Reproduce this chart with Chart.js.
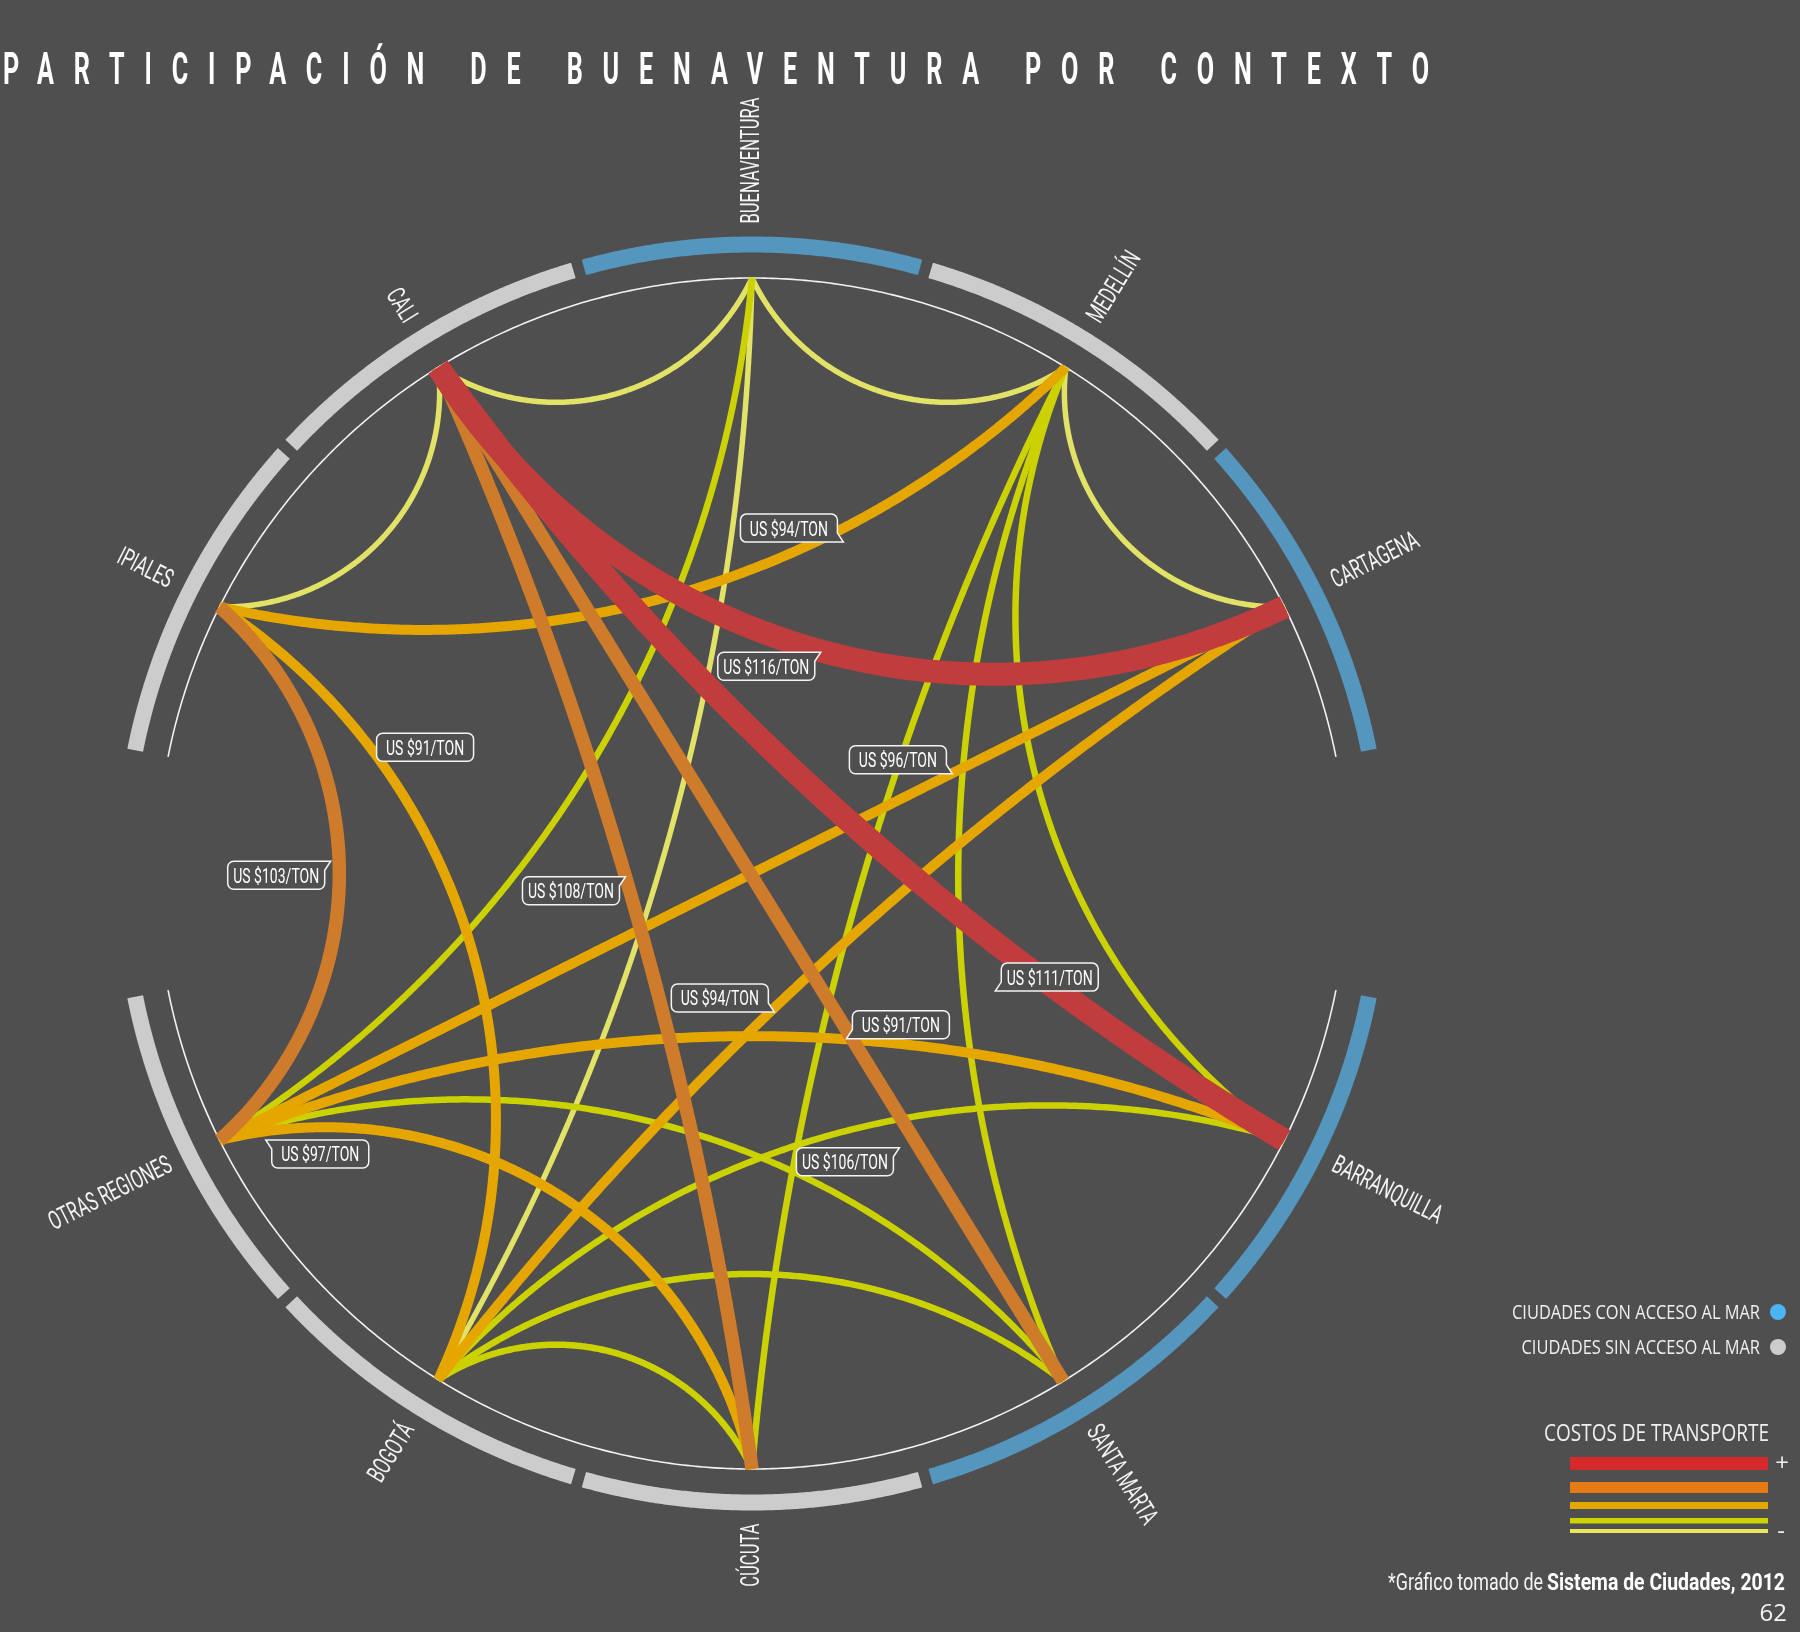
<!DOCTYPE html>
<html><head><meta charset="utf-8">
<script src="https://cdn.jsdelivr.net/npm/chart.js@4.4.1/dist/chart.umd.min.js"></script>
<style>html,body{margin:0;padding:0;background:#4f4f4f;overflow:hidden}canvas{display:block}</style>
</head><body>
<canvas id="c" width="1800" height="1632"></canvas>
<script>
// ---------------- DATA ----------------
const chartTitle = 'PARTICIPACIÓN DE BUENAVENTURA POR CONTEXTO';
const cities = ['BUENAVENTURA','MEDELLÍN','CARTAGENA','BARRANQUILLA','SANTA MARTA','CÚCUTA','BOGOTÁ','OTRAS REGIONES','IPIALES','CALI'];
const cityAngles = [0, 31.8, 63.4, 116.6, 148.5, 180, 211.8, 243.4, 296.6, 328.2];
const seaAccess = [true, false, true, true, true, false, false, false, false, false];
const segmentStart = [-15.5, 16.5, 48.1, 101.3, 132.9, 164.5, 196.5, 228.1, 281.3, 312.9];
const segmentEnd   = [15.5, 47.1, 78.7, 131.9, 163.5, 195.5, 227.1, 258.7, 311.9, 343.5];
const edgeFrom  = [0,0,0,0,9,9,9,9,9,1,1,1,1,1,8,8,7,7,7,7,6,6,6,6];
const edgeTo    = [9,1,7,6,8,2,3,5,4,8,2,5,4,3,7,6,2,3,4,5,2,3,4,5];
const edgeLevel = [1,1,2,1,1,5,5,4,4,3,1,2,2,2,4,3,3,3,2,3,3,2,2,2];
const edgeCost  = [null,null,null,null,null,116,111,108,106,94,null,null,null,null,103,91,96,91,null,97,94,null,null,null];
const legendSea = ['CIUDADES CON ACCESO AL MAR','CIUDADES SIN ACCESO AL MAR'];
const legendCostTitle = 'COSTOS DE TRANSPORTE';
const legendCostLevels = [5,4,3,2,1];
const sourceNormal = '*Gráfico tomado de ';
const sourceBold = 'Sistema de Ciudades, 2012';
const pageNumber = '62';

// ---------------- STYLE / LAYOUT ----------------
const BG = '#4f4f4f';
const levelColor = {1:'#e2e266', 2:'#ccd100', 3:'#e6a600', 4:'#cf7b2c', 5:'#c03c3d'};
const levelWidth = {1:5.5, 2:6.5, 3:10, 4:13.5, 5:23};
const legendColor = {5:'#d42a2a', 4:'#e57b12', 3:'#e4a800', 2:'#cdd300', 1:'#e8e85a'};
const legendBar = {5:[1457,1470], 4:[1482,1493], 3:[1502,1509], 2:[1518,1523.5], 1:[1529,1533]};
// curvature of each chord (ratio of mid-point distance to chord mid distance); null = default
const edgeBend = [null,null,0.62,0.55,null,0.58,0.64,0.75,null,0.72,null,0.66,0.66,0.68,0.775,0.66,null,0.61,0.66,0.74,0.7,0.68,0.79,null];
// label annotation placement (data units, circle radius = 1)
const labelLayout = [
  {e:9,  x:0.062,  y:0.580,  tail:'br'},
  {e:5,  x:0.024,  y:0.348,  tail:'tr'},
  {e:15, x:-0.549, y:0.212,  tail:'none'},
  {e:16, x:0.245,  y:0.191,  tail:'br'},
  {e:14, x:-0.799, y:-0.003, tail:'tr'},
  {e:7,  x:-0.304, y:-0.029, tail:'tr'},
  {e:6,  x:0.500,  y:-0.174, tail:'bl'},
  {e:20, x:-0.054, y:-0.209, tail:'br'},
  {e:17, x:0.250,  y:-0.254, tail:'bl'},
  {e:19, x:-0.725, y:-0.471, tail:'tl'},
  {e:8,  x:0.156,  y:-0.484, tail:'tr'}
];
const W = 1800, H = 1632, CX = 752, CY = 873.5, RPX = 595.5;
const xMin = -CX / RPX, xMax = (W - CX) / RPX, yMax = CY / RPX, yMin = -(H - CY) / RPX;
const RING_R = 629 / RPX, LABEL_R = 650 / RPX;
const D2R = Math.PI / 180;

function arcPts(a0, a1, r, n) {
  const pts = [];
  for (let k = 0; k <= n; k++) {
    const a = (a0 + (a1 - a0) * k / n) * D2R;
    pts.push({x: r * Math.sin(a), y: r * Math.cos(a)});
  }
  return pts;
}
function defaultBend(d) {
  const tbl = [[0,0.95],[32,0.87],[64,0.77],[96,0.66],[128,0.62],[180,0.65]];
  for (let i = 1; i < tbl.length; i++) {
    if (d <= tbl[i][0]) {
      const t = (d - tbl[i-1][0]) / (tbl[i][0] - tbl[i-1][0]);
      return tbl[i-1][1] + t * (tbl[i][1] - tbl[i-1][1]);
    }
  }
  return 0.65;
}
function edgePts(idx) {
  const i = edgeFrom[idx], j = edgeTo[idx];
  const a = cityAngles[i] * D2R, b = cityAngles[j] * D2R;
  const P0 = {x: Math.sin(a), y: Math.cos(a)}, P2 = {x: Math.sin(b), y: Math.cos(b)};
  const Mx = (P0.x + P2.x) / 2, My = (P0.y + P2.y) / 2, m = Math.hypot(Mx, My);
  let delta = Math.abs(cityAngles[i] - cityAngles[j]); if (delta > 180) delta = 360 - delta;
  const r = edgeBend[idx] == null ? defaultBend(delta) : edgeBend[idx];
  const s = m * (1 - r);
  const N = 140, pts = [];
  if (s < 1e-3) {
    for (let k = 0; k <= N; k++) { const t = k / N; pts.push({x: P0.x + (P2.x - P0.x) * t, y: P0.y + (P2.y - P0.y) * t}); }
    return pts;
  }
  const ux = Mx / m, uy = My / m;
  const c = Math.hypot(P0.x - Mx, P0.y - My);
  const rho = (c * c + s * s) / (2 * s);
  const dq = m - s;
  const Ox = ux * (dq + rho), Oy = uy * (dq + rho);
  const f0 = Math.atan2(P0.y - Oy, P0.x - Ox);
  const fq = Math.atan2(-uy, -ux);
  let d1 = fq - f0;
  while (d1 > Math.PI) d1 -= 2 * Math.PI;
  while (d1 < -Math.PI) d1 += 2 * Math.PI;
  for (let k = 0; k <= N; k++) {
    const f = f0 + 2 * d1 * k / N;
    pts.push({x: Ox + rho * Math.cos(f), y: Oy + rho * Math.sin(f)});
  }
  return pts;
}

const datasets = [];
cities.forEach((c, i) => {
  datasets.push({label: 'ring ' + c, data: arcPts(segmentStart[i], segmentEnd[i], RING_R, 80),
    borderColor: seaAccess[i] ? '#5596be' : '#cccccc', borderWidth: 16, borderCapStyle: 'butt', order: 100});
});
datasets.push({label: 'circle top', data: arcPts(-78.7, 78.7, 1, 200), borderColor: '#f2f2f2', borderWidth: 1.6, order: 99});
datasets.push({label: 'circle bottom', data: arcPts(101.3, 258.7, 1, 200), borderColor: '#f2f2f2', borderWidth: 1.6, order: 99});
edgeFrom.forEach((f, idx) => {
  const lv = edgeLevel[idx];
  datasets.push({label: cities[f] + ' - ' + cities[edgeTo[idx]], data: edgePts(idx),
    borderColor: levelColor[lv], borderWidth: levelWidth[lv], borderCapStyle: 'butt',
    order: 20 - lv * 2 - idx / 100});
});
// tiny tension avoids Chart.js' x-sorted "fast path", which would collapse near-vertical runs
datasets.forEach(d => { d.showLine = true; d.pointRadius = 0; d.pointHoverRadius = 0; d.tension = 0.0001; d.fill = false; d.borderJoinStyle = 'round'; });

function condText(ctx, text, x, y, opt) {
  ctx.save();
  ctx.translate(x, y);
  if (opt.rot) ctx.rotate(opt.rot);
  ctx.scale(opt.sx || 1, 1);
  ctx.font = opt.font;
  ctx.fillStyle = opt.color || '#ffffff';
  ctx.textAlign = opt.align || 'left';
  ctx.textBaseline = opt.baseline || 'alphabetic';
  if (opt.ls) ctx.letterSpacing = opt.ls + 'px';
  ctx.fillText(text, 0, 0);
  ctx.restore();
}
function scaleFor(ctx, text, font, target) {
  ctx.save(); ctx.font = font; ctx.letterSpacing = '0px';
  const w = ctx.measureText(text).width; ctx.restore();
  return target / w;
}

const bgPlugin = {
  id: 'bg',
  beforeDraw(chart) {
    const ctx = chart.ctx; ctx.save(); ctx.fillStyle = BG; ctx.fillRect(0, 0, chart.width, chart.height); ctx.restore();
  }
};

const annotPlugin = {
  id: 'annot',
  afterDraw(chart) {
    const ctx = chart.ctx, xs = chart.scales.x, ys = chart.scales.y;
    // Title
    const tFont = 'bold 45px Roboto';
    const tsx = 0.56;
    ctx.save(); ctx.font = tFont; ctx.letterSpacing = '0px';
    const w0 = ctx.measureText(chartTitle).width; ctx.restore();
    const n = [...chartTitle].length;
    const ls = (1426 / tsx - w0) / (n - 1);
    condText(ctx, chartTitle, 3, 84, {font: tFont, sx: tsx, ls: ls});

    // City names
    const cFont = '26px Roboto';
    const csx = scaleFor(ctx, 'BUENAVENTURA', cFont, 126);
    cities.forEach((c, i) => {
      const th = cityAngles[i];
      const px = xs.getPixelForValue(LABEL_R * Math.sin(th * D2R));
      const py = ys.getPixelForValue(LABEL_R * Math.cos(th * D2R));
      if (th < 180) condText(ctx, c, px, py, {font: cFont, sx: csx, rot: (th - 90) * D2R, align: 'left', baseline: 'middle', color: '#f4f4f4'});
      else condText(ctx, c, px, py, {font: cFont, sx: csx, rot: (th - 270) * D2R, align: 'right', baseline: 'middle', color: '#f4f4f4'});
    });

    // Cost labels
    const lFont = '21px Roboto';
    const lsx = scaleFor(ctx, 'US $116/TON', lFont, 86);
    labelLayout.forEach(L => {
      const cx = xs.getPixelForValue(L.x), cy = ys.getPixelForValue(L.y);
      const bw = 97, bh = 28, rr = 6, sp = 6, sd = 9;
      const l = cx - bw / 2, r = cx + bw / 2, t = cy - bh / 2, b = cy + bh / 2;
      ctx.save();
      ctx.beginPath();
      if (L.tail === 'tl') { ctx.moveTo(l - sp, t); } else { ctx.moveTo(l + rr, t); }
      if (L.tail === 'tr') { ctx.lineTo(r + sp, t); ctx.lineTo(r, t + sd); } else { ctx.lineTo(r - rr, t); ctx.arcTo(r, t, r, t + rr, rr); }
      if (L.tail === 'br') { ctx.lineTo(r, b - sd); ctx.lineTo(r + sp, b); } else { ctx.lineTo(r, b - rr); ctx.arcTo(r, b, r - rr, b, rr); }
      if (L.tail === 'bl') { ctx.lineTo(l - sp, b); ctx.lineTo(l, b - sd); } else { ctx.lineTo(l + rr, b); ctx.arcTo(l, b, l, b - rr, rr); }
      if (L.tail === 'tl') { ctx.lineTo(l, t + sd); ctx.closePath(); } else { ctx.lineTo(l, t + rr); ctx.arcTo(l, t, l + rr, t, rr); ctx.closePath(); }
      ctx.fillStyle = BG; ctx.fill();
      ctx.strokeStyle = '#f4f4f4'; ctx.lineWidth = 1.5; ctx.stroke();
      ctx.restore();
      condText(ctx, 'US $' + edgeCost[L.e] + '/TON', cx, cy + 7.5, {font: lFont, sx: lsx, align: 'center'});
    });

    // Legend: sea access
    const gFont = '20px "Open Sans"';
    const gsx = scaleFor(ctx, legendSea[0], gFont, 248);
    condText(ctx, legendSea[0], 1760, 1319, {font: gFont, sx: gsx, align: 'right', color: '#f0f0f0'});
    condText(ctx, legendSea[1], 1760, 1354, {font: gFont, sx: gsx, align: 'right', color: '#f0f0f0'});
    ctx.save();
    ctx.fillStyle = '#4ab4f5'; ctx.beginPath(); ctx.arc(1778, 1312, 8, 0, Math.PI * 2); ctx.fill();
    ctx.fillStyle = '#cccccc'; ctx.beginPath(); ctx.arc(1778, 1347, 8, 0, Math.PI * 2); ctx.fill();
    ctx.restore();
    // Legend: costs
    const hFont = '24px "Open Sans"';
    const hsx = scaleFor(ctx, legendCostTitle, hFont, 225);
    condText(ctx, legendCostTitle, 1769, 1441, {font: hFont, sx: hsx, align: 'right', color: '#f0f0f0'});
    ctx.save();
    legendCostLevels.forEach(lv => {
      const [y0, y1] = legendBar[lv];
      ctx.fillStyle = legendColor[lv];
      ctx.fillRect(1570, y0, 198, y1 - y0);
    });
    ctx.restore();
    condText(ctx, '+', 1782, 1471, {font: '24px "Open Sans"', align: 'center', color: '#f0f0f0'});
    condText(ctx, '-', 1781, 1539, {font: '24px "Open Sans"', align: 'center', color: '#f0f0f0'});

    // Source
    const sbFont = 'bold 24px Roboto', snFont = '24px Roboto';
    const sbsx = scaleFor(ctx, sourceBold, sbFont, 238);
    const snsx = scaleFor(ctx, sourceNormal.trim(), snFont, 155);
    condText(ctx, sourceBold, 1785, 1590, {font: sbFont, sx: sbsx, align: 'right', color: '#ffffff'});
    condText(ctx, sourceNormal.trim(), 1543, 1590, {font: snFont, sx: snsx, align: 'right', color: '#f4f4f4'});
    condText(ctx, pageNumber, 1787, 1621, {font: '24px "Open Sans"', align: 'right', color: '#f4f4f4'});
  }
};

new Chart(document.getElementById('c'), {
  type: 'scatter',
  data: {datasets},
  options: {
    responsive: false, animation: false, events: [], devicePixelRatio: 1,
    parsing: false, normalized: true,
    layout: {padding: 0},
    scales: {
      x: {type: 'linear', min: xMin, max: xMax, bounds: 'data', display: false},
      y: {type: 'linear', min: yMin, max: yMax, bounds: 'data', display: false}
    },
    plugins: {legend: {display: false}, tooltip: {enabled: false}, title: {display: false}}
  },
  plugins: [bgPlugin, annotPlugin]
});
</script>
</body></html>
